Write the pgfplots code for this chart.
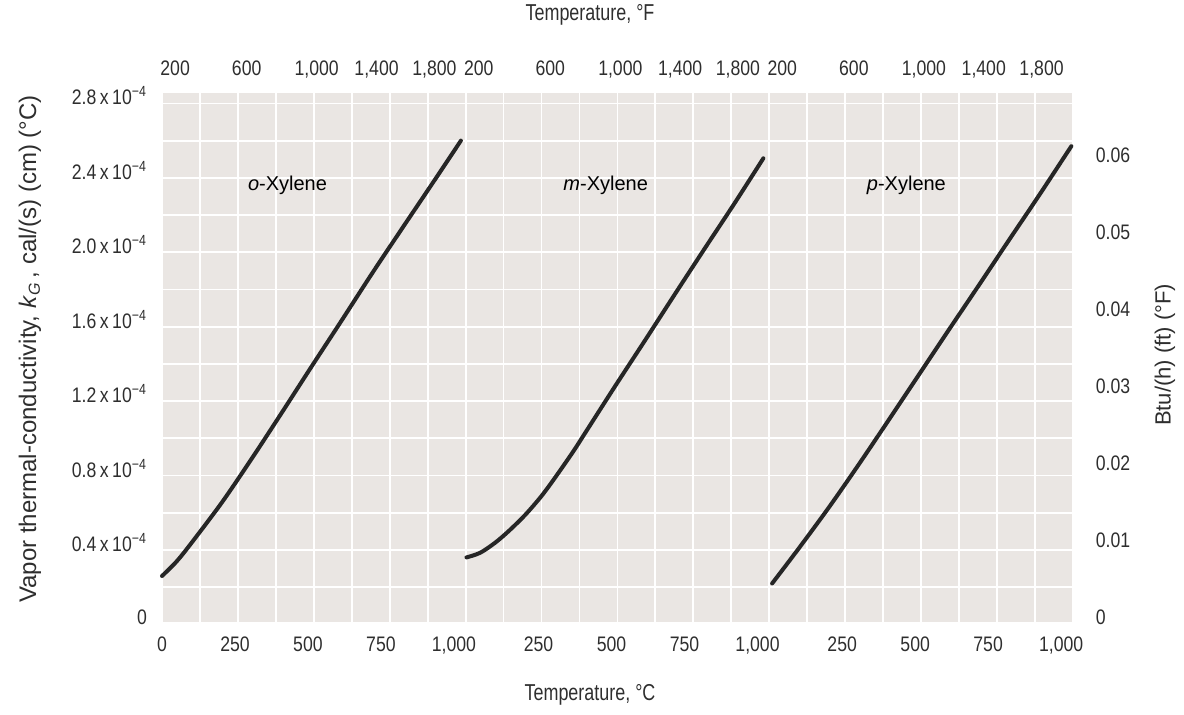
\documentclass[border=0pt]{standalone}
\usepackage{pgfplots}
\pgfplotsset{compat=1.18}
\usepackage{fontspec}
\setmainfont{Liberation Sans}
\newfontfamily\cond[FakeStretch=0.84]{Liberation Sans}
\newfontfamily\narrow[FakeStretch=0.78]{Liberation Sans}

\definecolor{paper}{HTML}{EAE6E3}
\definecolor{ink}{HTML}{262626}
\definecolor{txt}{HTML}{2E2E2E}

% thermal conductivity in units of 1e-4 cal/(s)(cm)(°C), x in °C
\pgfplotstableread{
x y
0 0.22
51 0.30
102 0.40
205 0.615
307 0.85
410 1.097
512 1.345
614 1.59
717 1.84
819 2.08
922 2.32
1024 2.56
}\oxylene
\pgfplotstableread{
x y
3 0.32
50 0.345
102 0.40
150 0.465
205 0.55
260 0.65
307 0.75
369 0.89
410 0.99
512 1.24
614 1.485
717 1.735
819 1.98
922 2.225
1020 2.465
}\mxylene
\pgfplotstableread{
x y
10 0.18
102 0.37
205 0.59
307 0.82
410 1.06
512 1.30
614 1.54
717 1.78
819 2.02
922 2.26
1035 2.53
}\pxylene

\pgfplotsset{
  panel/.style={
    scale only axis, width=151.8pt, height=264.5pt,
    xmin=0, xmax=1040, ymin=-0.027, ymax=2.816,
    axis line style={draw=none},
    tick style={draw=none},
    axis background/.style={fill=paper},
    ytick={0,0.4,...,2.8},
    minor xtick={0,130,...,1040},
    minor ytick={0.16,0.36,...,2.8},
    grid=minor,
    minor grid style={white, line width=0.9pt},
    xticklabel pos=lower, yticklabel pos=left,
    xticklabel style={font=\cond\fontsize{10.5}{12}\selectfont, text=txt, yshift=-4pt},
    yticklabel style={font=\cond\fontsize{10.5}{12}\selectfont, text=txt, xshift=-4pt},
    clip=false,
  },
  toplabels/.style={
    scale only axis, width=151.8pt, height=264.5pt,
    xmin=0, xmax=1040, ymin=-0.027, ymax=2.816,
    axis line style={draw=none}, tick style={draw=none},
    ytick=\empty,
    xticklabel pos=upper,
    xtick={45,290,530,735,933},
    xticklabels={200,600,{1,000},{1,400},{1,800}},
    xticklabel style={font=\cond\fontsize{10.5}{12}\selectfont, text=txt, anchor=base, yshift=8.5pt},
  },
  curve/.style={ink, line width=2pt, smooth, line cap=round},
  label/.style={font=\fontsize{11}{13}\selectfont, text=txt},
}

\begin{document}
\begin{tikzpicture}
\useasboundingbox (-81pt,-46.5pt) rectangle (511pt,311pt);

% o-Xylene
\begin{axis}[panel, name=p1, at={(0,0)}, anchor=south west,
  xtick={0,250,500,750,1000}, xticklabels={0,250,500,750,{1,000}},
  yticklabels={0,
    0.4\,x\,10\textsuperscript{−4},0.8\,x\,10\textsuperscript{−4},
    1.2\,x\,10\textsuperscript{−4},1.6\,x\,10\textsuperscript{−4},
    2.0\,x\,10\textsuperscript{−4},2.4\,x\,10\textsuperscript{−4},
    2.8\,x\,10\textsuperscript{−4}}]
  \addplot[curve] table {\oxylene};
  \node[label] at (axis cs:430,2.32) {\textit{o}-Xylene};
\end{axis}
\begin{axis}[toplabels, at={(0,0)}, anchor=south west]
\end{axis}

% m-Xylene
\begin{axis}[panel, name=p2, at={(p1.south east)}, anchor=south west,
  xtick={250,500,750,1000}, xticklabels={250,500,750,{1,000}},
  yticklabels={{},{},{},{},{},{},{},{}}]
  \addplot[curve] table {\mxylene};
  \node[label] at (axis cs:480,2.32) {\textit{m}-Xylene};
\end{axis}
\begin{axis}[toplabels, at={(p1.south east)}, anchor=south west]
\end{axis}

% p-Xylene
\begin{axis}[panel, name=p3, at={(p2.south east)}, anchor=south west,
  xtick={250,500,750,1000}, xticklabels={250,500,750,{1,000}},
  yticklabels={{},{},{},{},{},{},{},{}}]
  \addplot[curve] table {\pxylene};
  \node[label] at (axis cs:470,2.32) {\textit{p}-Xylene};
\end{axis}
\begin{axis}[toplabels, at={(p2.south east)}, anchor=south west]
\end{axis}

% right-hand scale, Btu/(h)(ft)(°F)
\begin{axis}[at={(p2.south east)}, anchor=south west,
  scale only axis, width=151.8pt, height=264.5pt,
  xmin=0, xmax=1040, ymin=-0.00065, ymax=0.06812,
  axis line style={draw=none}, tick style={draw=none},
  xtick=\empty, yticklabel pos=right, scaled y ticks=false,
  ytick={0,0.01,0.02,0.03,0.04,0.05,0.06},
  yticklabels={0,0.01,0.02,0.03,0.04,0.05,0.06},
  yticklabel style={font=\cond\fontsize{10.5}{12}\selectfont, text=txt, xshift=8pt}]
\end{axis}

\node[font=\narrow\fontsize{11.5}{13}\selectfont, text=txt] at (214pt,303.5pt) {Temperature, °F};
\node[font=\narrow\fontsize{11.5}{13}\selectfont, text=txt] at (214pt,-36.5pt) {Temperature, °C};
\node[font=\fontsize{12}{14}\selectfont, text=txt, rotate=90] at (-66pt,136.5pt)
  {Vapor thermal-conductivity, \textit{k}\textsubscript{\textit{G}}\,, cal/(s) (cm) (°C)};
\node[font=\fontsize{11}{13}\selectfont, text=txt, rotate=90] at (501.5pt,133.5pt)
  {Btu/(h) (ft) (°F)};
\end{tikzpicture}
\end{document}
